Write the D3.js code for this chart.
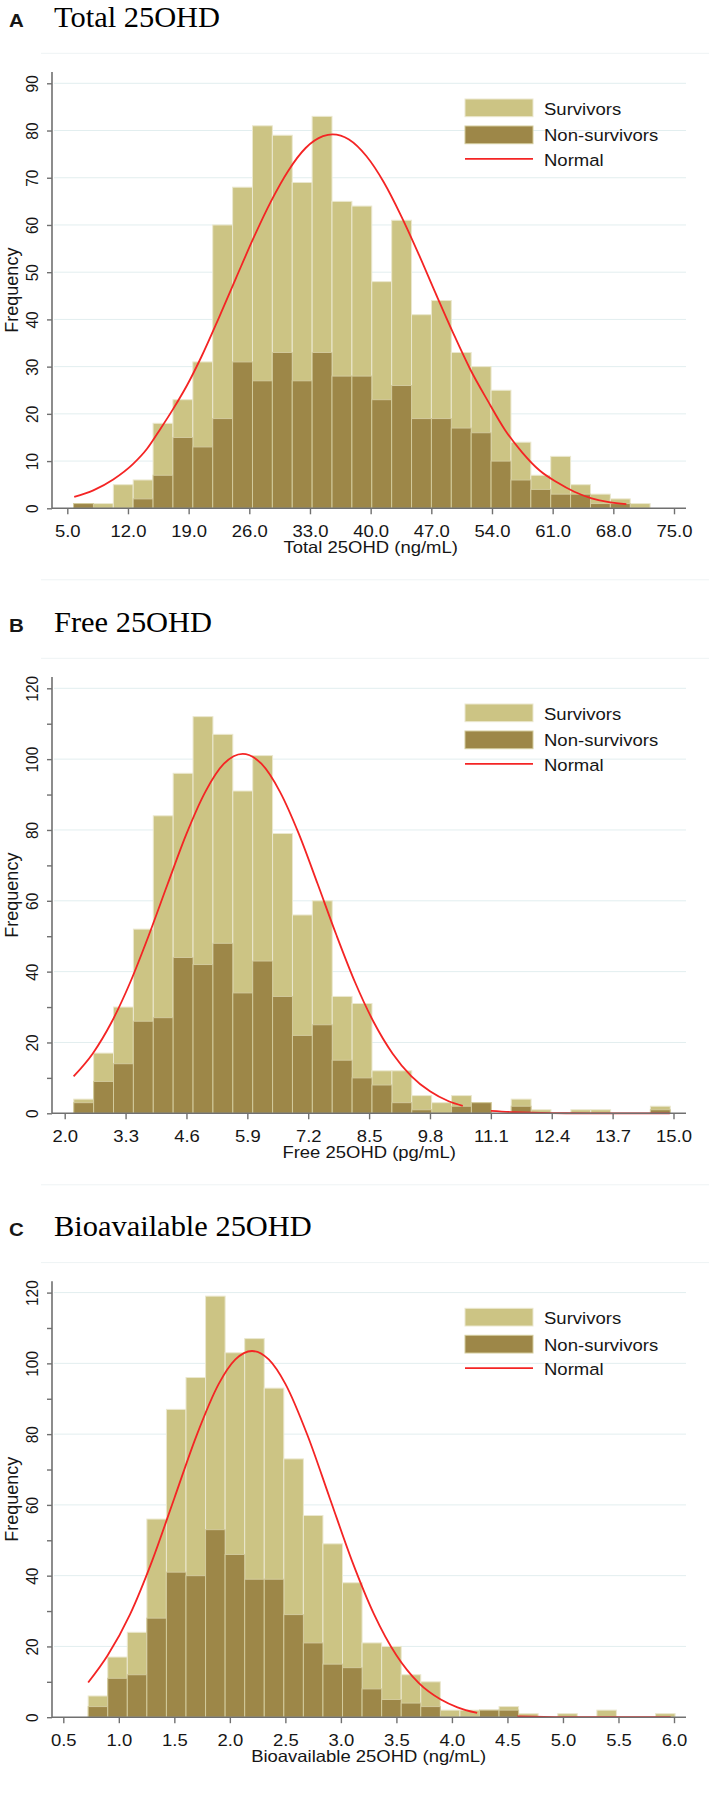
<!DOCTYPE html>
<html><head><meta charset="utf-8">
<script src="https://cdn.jsdelivr.net/npm/d3@7"></script>
<style>
html,body{margin:0;padding:0;background:#fff;}
svg{display:block;}
</style></head><body>
<svg id="chart" width="709" height="1794"></svg>
<script>
// ---------------- data ----------------
// Panel A: Total 25OHD
const totalTicks = [5.0, 12.0, 19.0, 26.0, 33.0, 40.0, 47.0, 54.0, 61.0, 68.0, 75.0];
const totalYTicks = [0, 10, 20, 30, 40, 50, 60, 70, 80, 90];
const totalBinStart = 5.72;
const totalBinWidth = 2.294;
const totalSurvivors = [1,1,5,6,18,23,31,60,68,81,79,69,83,65,64,48,61,41,44,33,30,25,14,7,11,5,3,2,1];
const totalNonSurvivors = [1,0,0,2,7,15,13,19,31,27,33,27,33,28,28,23,26,19,19,17,16,10,6,4,3,3,1,1,0];
const totalNormalX = [5.8,8.0,10.3,12.6,14.2,15.7,17.2,18.8,20.5,22.5,24.5,26.5,28.5,30.5,32.5,34.5,35.6,37.5,39.5,41.5,43.5,45.5,47.5,49.5,51.5,53.5,55.5,57.5,59.5,61.5,63.5,65.5,67.5,69.5];
const totalNormalY = [2.4,3.8,6.1,9.4,12.6,16.7,21.0,26.0,32.2,40.4,48.9,57.3,65.0,71.5,76.3,78.8,79.2,78.1,74.6,69.1,62.0,54.0,45.5,37.2,29.4,22.8,16.6,11.8,8.0,5.5,3.5,2.1,1.3,0.9];

// Panel B: Free 25OHD
const freeTicks = [2.0, 3.3, 4.6, 5.9, 7.2, 8.5, 9.8, 11.1, 12.4, 13.7, 15.0];
const freeYTicks = [0, 20, 40, 60, 80, 100, 120];
const freeYMinor = [10, 30, 50, 70, 90, 110];
const freeBinStart = 2.193;
const freeBinWidth = 0.4246;
const freeSurvivors = [4,17,30,52,84,96,112,107,91,101,79,56,60,33,31,12,12,5,3,5,3,0,4,1,0,1,1,0,0,2];
const freeNonSurvivors = [3,9,14,26,27,44,42,48,34,43,33,22,25,15,10,8,3,1,0,2,3,0,2,0,0,0,0,0,0,1];
const freeNormalX = [2.19,2.6,3.0,3.4,3.8,4.2,4.6,5.0,5.4,5.8,6.2,6.6,7.0,7.4,7.8,8.2,8.6,9.0,9.4,9.8,10.2,10.5];
const freeNormalY = [10.4,16.9,25.7,37.0,50.4,64.8,78.9,90.7,98.7,101.5,98.7,90.7,78.9,64.8,50.4,37.0,25.7,16.9,10.5,6.2,3.4,2.1];
const freeTailX = [11.1,11.6,12.4,13.2,14.0,14.92];
const freeTailY = [0.7,0.3,0.05,0,0,0];

// Panel C: Bioavailable 25OHD
const bioTicks = [0.5, 1.0, 1.5, 2.0, 2.5, 3.0, 3.5, 4.0, 4.5, 5.0, 5.5, 6.0];
const bioYTicks = [0, 20, 40, 60, 80, 100, 120];
const bioYMinor = [10, 30, 50, 70, 90, 110];
const bioBinStart = 0.724;
const bioBinWidth = 0.1762;
const bioSurvivors = [6,17,24,56,87,96,119,103,107,93,73,57,49,38,21,20,12,10,2,2,2,3,1,0,1,0,2,0,0,1];
const bioNonSurvivors = [3,11,12,28,41,40,53,46,39,39,29,21,15,14,8,5,4,3,0,0,2,2,0,0,0,0,0,0,0,0];
const bioNormalX = [0.724,0.9,1.1,1.3,1.5,1.7,1.9,2.05,2.2,2.35,2.5,2.7,2.9,3.1,3.3,3.5,3.7,3.9,4.05,4.227];
const bioNormalY = [9.8,17.5,29.0,44.2,61.9,79.6,94.2,101.1,103.5,101.1,94.2,79.6,61.9,44.2,29.0,17.5,9.7,5.0,2.8,1.2];
const bioTailX = [4.59,5.0,5.5,5.97];
const bioTailY = [0.26,0.04,0,0];

const legendLabels = ["Survivors", "Non-survivors", "Normal"];

// ---------------- styling / layout ----------------
const SANS = '"Liberation Sans", Arial, Helvetica, sans-serif';
const SERIF = '"Liberation Serif", "Times New Roman", Times, serif';
const LIGHT = '#ccc484', LIGHT_EDGE = '#ebe8cf';
const DARK = '#9d8748', DARK_EDGE = '#d3cb9c';
const RED = '#f42424', GRID = '#e2eeef', AXIS = '#707070', INK = '#161616';

const panels = [
  {letter:'A', title:'Total 25OHD', xTitle:'Total 25OHD (ng/mL)', xTicks: totalTicks, xRange:[67.3, 674],
   yMax:90, yMajor: totalYTicks, yMinor: [], yTop:83.3, yBase:508.3,
   binStart: totalBinStart, binWidth: totalBinWidth, surv: totalSurvivors, non: totalNonSurvivors,
   curves: [[totalNormalX, totalNormalY]]},
  {letter:'B', title:'Free 25OHD', xTitle:'Free 25OHD (pg/mL)', xTicks: freeTicks, xRange:[64.7, 673.5],
   yMax:120, yMajor: freeYTicks, yMinor: freeYMinor, yTop:688.3, yBase:1113.3,
   binStart: freeBinStart, binWidth: freeBinWidth, surv: freeSurvivors, non: freeNonSurvivors,
   curves: [[freeNormalX, freeNormalY], [freeTailX, freeTailY]]},
  {letter:'C', title:'Bioavailable 25OHD', xTitle:'Bioavailable 25OHD (ng/mL)', xTicks: bioTicks, xRange:[63.3, 674],
   yMax:120, yMajor: bioYTicks, yMinor: bioYMinor, yTop:1292.6, yBase:1717.2,
   binStart: bioBinStart, binWidth: bioBinWidth, surv: bioSurvivors, non: bioNonSurvivors,
   curves: [[bioNormalX, bioNormalY], [bioTailX, bioTailY]]}
];

const svg = d3.select('#chart');
const AX_L = 52, AX_R = 686;

function stretchedText(g, x, y, str, size, sx, opts = {}) {
  return g.append('text')
    .attr('transform', `translate(${x},${y}) scale(${sx},1)`)
    .attr('font-family', opts.family || SANS)
    .attr('font-size', size)
    .attr('font-weight', opts.weight || 'normal')
    .attr('text-anchor', opts.anchor || 'start')
    .attr('fill', opts.fill || INK)
    .text(str);
}

panels.forEach(p => {
  const g = svg.append('g');
  const x = d3.scaleLinear().domain([p.xTicks[0], p.xTicks[p.xTicks.length - 1]]).range(p.xRange);
  const y = d3.scaleLinear().domain([0, p.yMax]).range([p.yBase, p.yTop]);

  // faint graph-region frame lines
  g.append('line').attr('x1', 41).attr('x2', 709).attr('y1', p.yTop - 30).attr('y2', p.yTop - 30)
    .attr('stroke', '#eef3f4').attr('stroke-width', 1);
  if (p.letter !== 'C') {
    g.append('line').attr('x1', 41).attr('x2', 709).attr('y1', p.yBase + 71.5).attr('y2', p.yBase + 71.5)
      .attr('stroke', '#eef3f4').attr('stroke-width', 1);
  }

  // title
  stretchedText(g, 9, p.yTop - 56.8, p.letter, 19, 1.08, {weight: 'bold'});
  stretchedText(g, 54, p.yTop - 56.8, p.title, 29, 1.05, {family: SERIF, fill: '#000'});

  // gridlines
  g.append('g').selectAll('line').data(p.yMajor.filter(v => v > 0)).join('line')
    .attr('x1', AX_L + 2).attr('x2', AX_R)
    .attr('y1', d => y(d)).attr('y2', d => y(d))
    .attr('stroke', GRID).attr('stroke-width', 1);

  // bars
  const bins = p.surv.map((s, i) => ({
    x0: p.binStart + i * p.binWidth,
    x1: p.binStart + (i + 1) * p.binWidth,
    s: s, n: p.non[i]
  }));
  g.append('g').selectAll('rect').data(bins.filter(b => b.s > 0)).join('rect')
    .attr('x', b => x(b.x0)).attr('width', b => x(b.x1) - x(b.x0))
    .attr('y', b => y(b.s)).attr('height', b => y(0) - y(b.s))
    .attr('fill', LIGHT).attr('stroke', LIGHT_EDGE).attr('stroke-width', 1);
  g.append('g').selectAll('rect').data(bins.filter(b => b.n > 0)).join('rect')
    .attr('x', b => x(b.x0)).attr('width', b => x(b.x1) - x(b.x0))
    .attr('y', b => y(b.n)).attr('height', b => y(0) - y(b.n))
    .attr('fill', DARK).attr('stroke', DARK_EDGE).attr('stroke-width', 1);

  // normal curve
  const line = d3.line().x(d => x(d[0])).y(d => y(d[1])).curve(d3.curveMonotoneX);
  p.curves.forEach(([xs, ys]) => {
    g.append('path').datum(xs.map((v, i) => [v, ys[i]]))
      .attr('d', line).attr('fill', 'none').attr('stroke', RED).attr('stroke-width', 1.8);
  });

  // x axis
  const ax = g.append('g').attr('transform', `translate(0,${p.yBase})`)
    .call(d3.axisBottom(x).tickValues(p.xTicks).tickFormat(d3.format('.1f')).tickSize(6).tickSizeOuter(0));
  ax.select('.domain').remove();
  ax.selectAll('.tick line').attr('stroke', AXIS).attr('stroke-width', 1.4);
  ax.selectAll('.tick text').attr('y', 28.5).attr('dy', '0')
    .attr('fill', INK).attr('font-size', 16.5).attr('font-family', SANS)
    .attr('transform', 'scale(1.12,1)');
  g.append('line').attr('x1', AX_L).attr('x2', AX_R).attr('y1', p.yBase).attr('y2', p.yBase)
    .attr('stroke', AXIS).attr('stroke-width', 1.6);
  stretchedText(g, (p.xRange[0] + p.xRange[1]) / 2, p.yBase + 45, p.xTitle, 16.5, 1.12, {anchor: 'middle'});

  // y axis
  const ay = g.append('g').attr('transform', `translate(${AX_L},0)`)
    .call(d3.axisLeft(y).tickValues(p.yMajor).tickFormat(d3.format('d')).tickSize(5).tickSizeOuter(0));
  ay.select('.domain').remove();
  ay.selectAll('.tick line').attr('stroke', AXIS).attr('stroke-width', 1.4);
  ay.selectAll('.tick text').attr('x', null).attr('dy', '0').attr('text-anchor', 'middle')
    .attr('fill', INK).attr('font-size', 15.5).attr('font-family', SANS)
    .attr('transform', 'translate(-13.7,0) rotate(-90) scale(1,1.08)');
  if (p.yMinor.length) {
    const am = g.append('g').attr('transform', `translate(${AX_L},0)`)
      .call(d3.axisLeft(y).tickValues(p.yMinor).tickFormat('').tickSize(5).tickSizeOuter(0));
    am.select('.domain').remove();
    am.selectAll('.tick line').attr('stroke', AXIS).attr('stroke-width', 1.4);
  }
  g.append('line').attr('x1', AX_L).attr('x2', AX_L).attr('y1', p.yTop - 11.3).attr('y2', p.yBase)
    .attr('stroke', AXIS).attr('stroke-width', 1.6);
  g.append('text')
    .attr('transform', `translate(17.5,${(p.yTop - 11.3 + p.yBase) / 2}) rotate(-90)`)
    .attr('text-anchor', 'middle').attr('font-family', SANS).attr('font-size', 18).attr('fill', INK)
    .text('Frequency');

  // legend
  const lg = g.append('g');
  lg.append('rect').attr('x', 465).attr('y', p.yTop + 15.7).attr('width', 68).attr('height', 17.7)
    .attr('fill', LIGHT).attr('stroke', LIGHT_EDGE).attr('stroke-width', 1);
  lg.append('rect').attr('x', 465).attr('y', p.yTop + 42.7).attr('width', 68).attr('height', 17.7)
    .attr('fill', DARK).attr('stroke', DARK_EDGE).attr('stroke-width', 1);
  lg.append('line').attr('x1', 465).attr('x2', 533).attr('y1', p.yTop + 75.5).attr('y2', p.yTop + 75.5)
    .attr('stroke', RED).attr('stroke-width', 1.8);
  stretchedText(lg, 544, p.yTop + 31.8, legendLabels[0], 17, 1.09);
  stretchedText(lg, 544, p.yTop + 58.1, legendLabels[1], 17, 1.09);
  stretchedText(lg, 544, p.yTop + 82.6, legendLabels[2], 17, 1.09);
});
</script>
</body></html>
